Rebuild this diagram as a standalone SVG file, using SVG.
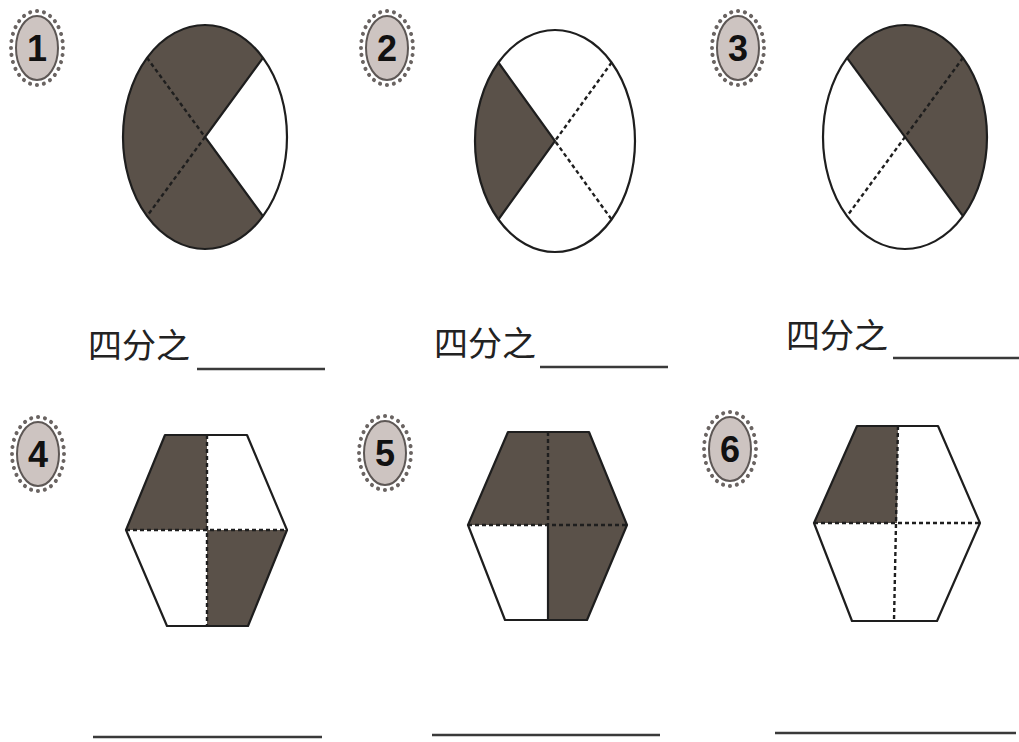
<svg xmlns="http://www.w3.org/2000/svg" width="1019" height="742" viewBox="0 0 1019 742">
<style>
.bg{fill:#ffffff}
.shade{fill:#5a5149;stroke:none}
.out{fill:none;stroke:#1e1e1e;stroke-width:2.2;stroke-linejoin:round}
.solid{stroke:#1e1e1e;stroke-width:2.2;fill:none}
.dash{stroke:#1e1e1e;stroke-width:2.4;fill:none;stroke-dasharray:4 3}
.badge{fill:#cdc4c1;stroke:#5e5856;stroke-width:2}
.spikes{fill:none;stroke:#6a6462;stroke-width:4;stroke-linecap:round;stroke-dasharray:0.1 7}
.num{font-family:"Liberation Sans Narrow","Liberation Sans",Arial,sans-serif;font-weight:bold;font-size:36px;fill:#111;text-anchor:middle}
.lbl{font-family:"Noto Sans CJK SC","Noto Sans CJK JP",sans-serif;font-size:34px;fill:#222}
.line{stroke:#3a3a3a;stroke-width:2.6}
</style>
<rect class="bg" x="0" y="0" width="1019" height="742"/>

<g id="badge1">
<ellipse class="spikes" cx="37" cy="48" rx="26" ry="37"/>
<ellipse class="badge" cx="37" cy="48" rx="21" ry="32"/>
<text class="num" x="37" y="61">1</text>
</g>
<g id="badge2">
<ellipse class="spikes" cx="387" cy="48" rx="26" ry="37"/>
<ellipse class="badge" cx="387" cy="48" rx="21" ry="32"/>
<text class="num" x="387" y="61">2</text>
</g>
<g id="badge3">
<ellipse class="spikes" cx="738" cy="48" rx="26" ry="37"/>
<ellipse class="badge" cx="738" cy="48" rx="21" ry="32"/>
<text class="num" x="738" y="61">3</text>
</g>
<g id="badge4">
<ellipse class="spikes" cx="38" cy="454" rx="26" ry="37"/>
<ellipse class="badge" cx="38" cy="454" rx="21" ry="32"/>
<text class="num" x="38" y="467">4</text>
</g>
<g id="badge5">
<ellipse class="spikes" cx="385" cy="453" rx="26" ry="37"/>
<ellipse class="badge" cx="385" cy="453" rx="21" ry="32"/>
<text class="num" x="385" y="466">5</text>
</g>
<g id="badge6">
<ellipse class="spikes" cx="730" cy="449" rx="26" ry="37"/>
<ellipse class="badge" cx="730" cy="449" rx="21" ry="32"/>
<text class="num" x="730" y="462">6</text>
</g>

<g id="fig1">
<path class="shade" d="M205,137 L263,57.8 A82,112 0 1 0 263,216.2 Z"/>
<ellipse class="out" cx="205" cy="137" rx="82" ry="112"/>
<path class="solid" d="M263,57.8 L205,137 L263,216.2"/>
<path class="dash" d="M147,57.8 L205,137 L147,216.2"/>
</g>

<g id="fig2">
<path class="shade" d="M555,141 L498.4,62.5 A80,111 0 0 0 498.4,219.5 Z"/>
<ellipse class="out" cx="555" cy="141" rx="80" ry="111"/>
<path class="solid" d="M498.4,62.5 L555,141 L498.4,219.5"/>
<path class="dash" d="M611.6,62.5 L555,141 L611.6,219.5"/>
</g>

<g id="fig3">
<path class="shade" d="M905,137 L847,57.8 A82,112 0 0 1 963,216.2 Z"/>
<ellipse class="out" cx="905" cy="137" rx="82" ry="112"/>
<path class="solid" d="M847,57.8 L963,216.2"/>
<path class="dash" d="M963,57.8 L847,216.2"/>
</g>

<g id="fig4">
<polygon class="shade" points="165,435 207,435 207,530 126,530"/>
<polygon class="shade" points="207,530 287,530 248,626 207,626"/>
<polygon class="out" points="165,435 247,435 287,530 248,626 167,626 126,530"/>
<path class="dash" d="M207,435 L207,626 M126,530 L287,530"/>
</g>

<g id="fig5">
<polygon class="shade" points="508,432 589,432 627,525 468,525"/>
<polygon class="shade" points="548,525 627,525 587,620 548,620"/>
<polygon class="out" points="508,432 589,432 627,525 587,620 505,620 468,525"/>
<path class="dash" d="M548,432 L548,525 M468,525 L627,525"/>
<path class="solid" d="M548,525 L548,620"/>
</g>

<g id="fig6">
<polygon class="shade" points="857,426 898,426 897,523 814,523"/>
<polygon class="out" points="857,426 938,426 980,523 937,621 852,621 814,523"/>
<path class="dash" d="M898,426 L894,621 M814,523 L980,523"/>
</g>

<g id="labels">
<text class="lbl" x="88" y="358">四分之</text>
<line class="line" x1="197" y1="369" x2="325" y2="369"/>
<text class="lbl" x="434" y="356">四分之</text>
<line class="line" x1="540" y1="367" x2="668" y2="367"/>
<text class="lbl" x="786" y="348">四分之</text>
<line class="line" x1="893" y1="358" x2="1019" y2="358"/>
<line class="line" x1="93" y1="737" x2="322" y2="737"/>
<line class="line" x1="432" y1="735" x2="660" y2="735"/>
<line class="line" x1="775" y1="733" x2="1016" y2="733"/>
</g>
</svg>
